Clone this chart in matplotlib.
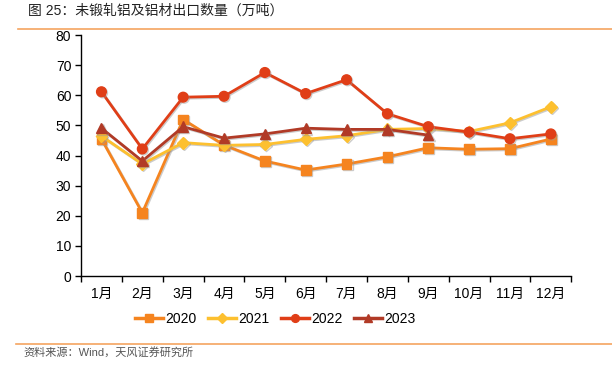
import matplotlib
matplotlib.use("Agg")
import matplotlib.pyplot as plt
import matplotlib.patheffects as pe
from matplotlib.lines import Line2D

plt.rcParams['font.family'] = ['Liberation Sans', 'Noto Sans CJK SC', 'DejaVu Sans']

months = ["1月", "2月", "3月", "4月", "5月", "6月", "7月", "8月", "9月", "10月", "11月", "12月"]
y2020 = [45.5, 21.0, 52.0, 43.5, 38.2, 35.2, 37.2, 39.6, 42.6, 42.1, 42.3, 45.5]
y2021 = [46.5, 37.2, 44.3, 43.4, 43.7, 45.4, 46.6, 48.7, 49.0, 48.0, 50.9, 56.2]
y2022 = [61.2, 42.2, 59.4, 59.7, 67.6, 60.6, 65.2, 53.9, 49.6, 47.8, 45.6, 47.2]
y2023 = [49.1, 38.2, 49.6, 45.8, 47.2, 49.1, 48.7, 48.7, 46.8]

series = [
    ("2020", y2020, "#F5841F", "s", 7),
    ("2021", y2021, "#FDC02F", "D", 6),
    ("2022", y2022, "#E03E17", "o", 7),
    ("2023", y2023, "#B13A26", "^", 7.5),
]

fig = plt.figure(figsize=(6.12, 3.74), dpi=100)
ax = fig.add_axes([0.1324, 0.262, 0.801, 0.644])

shadow = [pe.SimpleLineShadow(offset=(0.8, -0.8), shadow_color="#999999", alpha=0.5), pe.Normal()]
for name, vals, col, mk, ms in series:
    ax.plot(range(len(vals)), vals, color=col, marker=mk, markersize=ms, linewidth=2,
            markeredgecolor=col, label=name, path_effects=shadow, zorder=3)

ax.set_xlim(-0.5, 11.5)
ax.set_ylim(0, 80)
ax.set_yticks(range(0, 81, 10))
ax.set_xticks(range(12))
ax.set_xticklabels(months)
ax.set_xticks([i - 0.5 for i in range(13)], minor=True)
ax.tick_params(axis='x', which='major', length=0, pad=8, labelsize=10)
ax.tick_params(axis='x', which='minor', length=4, width=1, direction='out')
ax.tick_params(axis='y', length=4, width=1, direction='out', labelsize=10, pad=3)
for s in ['top', 'right']:
    ax.spines[s].set_visible(False)
for s in ['left', 'bottom']:
    ax.spines[s].set_linewidth(1)
    ax.spines[s].set_color('black')

handles = [Line2D([0], [0], color=c, marker=m, markersize=ms * 0.8, linewidth=2.5, markeredgecolor=c)
           for _, _, c, m, ms in series]
fig.legend(handles, [s[0] for s in series], loc='center', bbox_to_anchor=(0.45, 0.147), ncol=4,
           frameon=False, fontsize=10, handlelength=2.0, columnspacing=0.8, handletextpad=0.2)

fig.text(0.046, 0.972, "图 25：未锻轧铝及铝材出口数量（万吨）", fontsize=10, fontweight='medium',
         color='#222222', va='center', ha='left')
fig.add_artist(Line2D([0.03, 1.0], [0.922, 0.922], color='#F5A460', linewidth=1.2, transform=fig.transFigure))
fig.add_artist(Line2D([0.026, 1.0], [0.081, 0.081], color='#F5A460', linewidth=1.2, transform=fig.transFigure))
fig.text(0.038, 0.057, "资料来源：Wind，天风证券研究所", fontsize=8, color='#555555', va='center', ha='left')

fig.savefig("out.png", dpi=100)
